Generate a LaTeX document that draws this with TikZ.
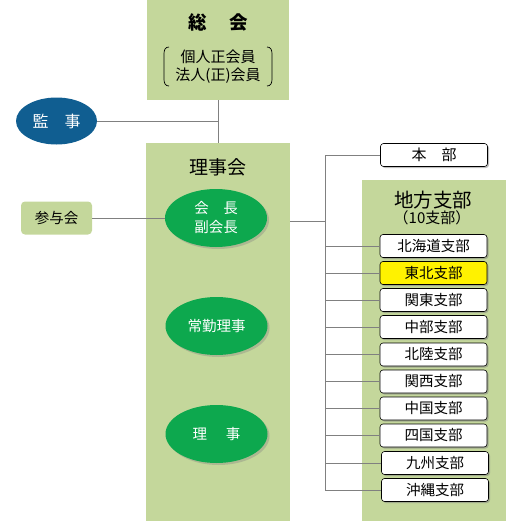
\documentclass[tikz,border=0pt]{standalone}
\usepackage{fontspec}
\setmainfont{Noto Sans CJK JP}
\usetikzlibrary{shapes.geometric,shadows}
\definecolor{boxgreen}{HTML}{C4D79B}
\definecolor{ovgreen}{HTML}{0DA84E}
\definecolor{ovblue}{HTML}{105E91}
\definecolor{linegray}{HTML}{808080}
\begin{document}
\begin{tikzpicture}[x=1pt,y=-1pt,
  panel/.style={fill=boxgreen, draw=none, inner sep=0pt},
  oval/.style={ellipse, fill=ovgreen, text=white, minimum width=102pt, minimum height=58pt, inner sep=0pt, align=center, font=\fontsize{14.5}{19}\selectfont, drop shadow={shadow xshift=2pt, shadow yshift=-2pt, opacity=0.35}},
  branch/.style={draw=black, line width=0.6pt, rounded corners=3pt, fill=white, minimum width=107pt, minimum height=23pt, inner sep=0pt, font=\fontsize{14.5}{16}\selectfont, drop shadow={shadow xshift=1.5pt, shadow yshift=-1.5pt, opacity=0.5}},
  conn/.style={draw=linegray, line width=0.9pt},
  title/.style={inner sep=0pt, font=\fontsize{19}{22}\selectfont}
]
\useasboundingbox (0,0) rectangle (506,522);
% panels
\node[panel, minimum width=142pt, minimum height=100pt] (sokai) at (218,50) {};
\node[panel, minimum width=144pt, minimum height=378pt] (riji) at (218,332) {};
\node[panel, minimum width=144pt, minimum height=341pt] (chiho) at (434,350.5) {};
% texts in panels
\node[title, font=\bfseries\fontsize{18.5}{22}\selectfont] (sokaititle) at (218,22) {総\hspace{1.2em}会};
\node[inner sep=0pt, font=\fontsize{15}{18}\selectfont, align=center] (members) at (218,67) {個人正会員\\法人(正)会員};
\draw[line width=0.7pt] (169,47) .. controls (165,47) and (164,50) .. (164,54) -- (164,79) .. controls (164,83) and (165,86) .. (169,86);
\draw[line width=0.7pt] (267,47) .. controls (271,47) and (272,50) .. (272,54) -- (272,79) .. controls (272,83) and (271,86) .. (267,86);
\node[title] (rijititle) at (218,167) {理事会};
\node[title, font=\fontsize{19.5}{22}\selectfont] (chihotitle) at (433,200.5) {地方支部};
\node[inner sep=0pt, font=\fontsize{15}{16}\selectfont] (chihosub) at (432,217.5) {（10支部）};
% left nodes
\node[ellipse, fill=ovblue, text=white, minimum width=81pt, minimum height=47pt, inner sep=0pt, font=\fontsize{16}{18}\selectfont] (kansa) at (56.5,121) {監　事};
\node[fill=boxgreen, rounded corners=4pt, minimum width=71pt, minimum height=33pt, inner sep=0pt, font=\fontsize{14.5}{16}\selectfont] (sanyo) at (56.5,218) {参与会};
% ovals
\node[oval] (kaicho) at (216,218) {会　長\\副会長};
\node[oval] (jokin) at (216.5,326) {常勤理事};
\node[oval] (rijiov) at (216.5,434) {理\hspace{1.3em}事};
% bus coordinate
\coordinate (bus) at (325,221);
% right boxes
\node[branch, font=\fontsize{15}{16}\selectfont] (honbu) at (434,155) {本　部};
\node[branch] (b1) at (433.5,246) {北海道支部};
\node[branch, fill=yellow] (b2) at (433.5,273) {東北支部};
\node[branch] (b3) at (433.5,300) {関東支部};
\node[branch] (b4) at (433.5,327) {中部支部};
\node[branch] (b5) at (433.5,354.5) {北陸支部};
\node[branch] (b6) at (433.5,381.5) {関西支部};
\node[branch] (b7) at (433.5,408.5) {中国支部};
\node[branch] (b8) at (433.5,435.5) {四国支部};
\node[branch] (b9) at (435,463) {九州支部};
\node[branch] (b10) at (435,490) {沖縄支部};
% connectors
\draw[conn] (sokai.south) -- (riji.north);
\draw[conn] (kansa.east) -- (kansa.east -| sokai.south);
\draw[conn] (sanyo.east) -- (kaicho.west);
\draw[conn] (riji.east |- bus) -- (bus);
\draw[conn] (honbu.west) -- (honbu.west -| bus) -- (b10.west -| bus) -- (b10.west);
\foreach \b in {b1,b2,b3,b4,b5,b6,b7,b8,b9}
  \draw[conn] (\b.west) -- (\b.west -| bus);
\end{tikzpicture}
\end{document}
